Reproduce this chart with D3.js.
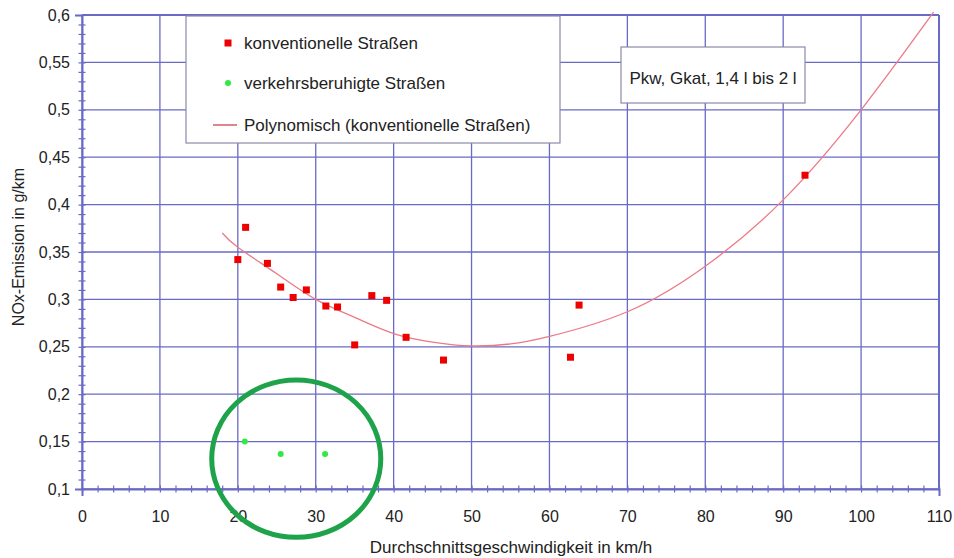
<!DOCTYPE html>
<html>
<head>
<meta charset="utf-8">
<script src="https://cdn.jsdelivr.net/npm/d3@7"></script>
<style>
  html, body { margin: 0; padding: 0; background: #ffffff; }
  svg { display: block; font-family: "Liberation Sans", Arial, sans-serif; }
</style>
</head>
<body>
<svg id="chart" width="954" height="558"></svg>
<script>
// ---- data ----
const konvX = [20.0, 21.0, 23.8, 25.5, 27.1, 28.8, 31.3, 32.8, 35.0, 37.2, 39.1, 41.6, 46.4, 62.7, 63.8, 92.8];
const konvY = [0.342, 0.376, 0.338, 0.313, 0.302, 0.310, 0.293, 0.292, 0.252, 0.304, 0.299, 0.260, 0.236, 0.239, 0.294, 0.431];
const beruhigtX = [20.9, 25.5, 31.2];
const beruhigtY = [0.150, 0.137, 0.137];
// trendline
const trendX = [18, 20, 25, 30, 35, 40, 45, 50, 55, 60, 70, 80, 90, 100, 109.3];
const trendY = [0.370, 0.355, 0.327, 0.300, 0.281, 0.264, 0.255, 0.251, 0.253, 0.261, 0.287, 0.335, 0.405, 0.500, 0.603];
const xTicks = [0, 10, 20, 30, 40, 50, 60, 70, 80, 90, 100, 110];
const yTicks = [0.1, 0.15, 0.2, 0.25, 0.3, 0.35, 0.4, 0.45, 0.5, 0.55, 0.6];
const legendLabels = ["konventionelle Straßen", "verkehrsberuhigte Straßen", "Polynomisch (konventionelle Straßen)"];
const noteText = "Pkw, Gkat, 1,4 l bis 2 l";
const xTitle = "Durchschnittsgeschwindigkeit in km/h";
const yTitle = "NOx-Emission in g/km";
// highlight ellipse (data units): centre x, centre y, radius x, radius y
const highlight = [27.5, 0.132, 10.85, 0.083];

// ---- layout ----
const W = 954, H = 558;
const m = { left: 82, right: 15, top: 15, bottom: 69 };
const svg = d3.select("#chart");
const x = d3.scaleLinear().domain([0, 110]).range([m.left, W - m.right]);
const y = d3.scaleLinear().domain([0.1, 0.6]).range([H - m.bottom, m.top]);
const gridColor = "#6a6ac6";
const de = d3.formatLocale({ decimal: ",", thousands: ".", grouping: [3], currency: ["", "€"] });
const fmt = de.format("~g");

// grid
const g = svg.append("g");
g.selectAll("line.vg").data(xTicks).join("line")
  .attr("x1", d => x(d)).attr("x2", d => x(d))
  .attr("y1", y(0.6)).attr("y2", y(0.1))
  .attr("stroke", gridColor).attr("stroke-width", 1.3);
g.selectAll("line.hg").data(yTicks).join("line")
  .attr("x1", x(0)).attr("x2", x(110))
  .attr("y1", d => y(d)).attr("y2", d => y(d))
  .attr("stroke", gridColor).attr("stroke-width", 1.3);

// axes with crossing minor ticks
const xAxis = d3.axisBottom(x).tickValues(d3.range(0, 111, 2)).tickSize(7)
  .tickFormat(d => (d % 10 === 0 ? d : ""));
const gx = svg.append("g").attr("transform", `translate(0,${y(0.1)})`).call(xAxis);
gx.select(".domain").attr("stroke", gridColor).attr("stroke-width", 2);
gx.selectAll(".tick line").attr("y1", -3.5).attr("y2", 3.5).attr("stroke", gridColor).attr("stroke-width", 1.2);
gx.selectAll(".tick text").attr("y", 22).attr("dy", "0.71em")
  .attr("font-size", 16).attr("fill", "#222").attr("font-family", "Liberation Sans, Arial, sans-serif");

const yAxis = d3.axisLeft(y).tickValues(d3.range(10, 61, 1).map(v => v / 100)).tickSize(7)
  .tickFormat(d => (Math.round(d * 100) % 5 === 0 ? fmt(d) : ""));
const gy = svg.append("g").attr("transform", `translate(${x(0)},0)`).call(yAxis);
gy.select(".domain").attr("stroke", gridColor).attr("stroke-width", 2);
gy.selectAll(".tick line").attr("x1", -3.5).attr("x2", 3.5).attr("stroke", gridColor).attr("stroke-width", 1.2);
gy.selectAll(".tick text").attr("x", -12)
  .attr("font-size", 16).attr("fill", "#222").attr("font-family", "Liberation Sans, Arial, sans-serif");

// frame top & right
svg.append("line").attr("x1", x(0)).attr("x2", x(110)).attr("y1", y(0.6)).attr("y2", y(0.6))
  .attr("stroke", gridColor).attr("stroke-width", 2);
svg.append("line").attr("x1", x(110)).attr("x2", x(110)).attr("y1", y(0.6)).attr("y2", y(0.1))
  .attr("stroke", gridColor).attr("stroke-width", 2);

// axis titles
svg.append("text").attr("x", 511).attr("y", 553)
  .attr("text-anchor", "middle").attr("font-size", 17).attr("fill", "#222").text(xTitle);
svg.append("text").attr("transform", `translate(24,247) rotate(-90)`)
  .attr("text-anchor", "middle").attr("font-size", 16).attr("fill", "#222").text(yTitle);

// trendline
const trend = trendX.map((d, i) => [d, trendY[i]]);
svg.append("path").datum(trend)
  .attr("d", d3.line().x(d => x(d[0])).y(d => y(d[1])).curve(d3.curveNatural))
  .attr("fill", "none").attr("stroke", "#ec7a86").attr("stroke-width", 1.3);

// points
const konv = konvX.map((d, i) => [d, konvY[i]]);
svg.selectAll("rect.k").data(konv).join("rect")
  .attr("x", d => x(d[0]) - 3.5).attr("y", d => y(d[1]) - 3.5)
  .attr("width", 7).attr("height", 7).attr("fill", "#ee0000");
const ber = beruhigtX.map((d, i) => [d, beruhigtY[i]]);
svg.selectAll("circle.b").data(ber).join("circle")
  .attr("cx", d => x(d[0])).attr("cy", d => y(d[1])).attr("r", 3)
  .attr("fill", "#33e844");

// legend box
const lg = svg.append("g");
lg.append("rect").attr("x", 186).attr("y", 16).attr("width", 374).attr("height", 127)
  .attr("fill", "#fff").attr("stroke", "#8a8aa8").attr("stroke-width", 1.2);
const ly = [43, 83, 125];
lg.append("rect").attr("x", 224.5).attr("y", ly[0] - 3.5).attr("width", 7).attr("height", 7).attr("fill", "#ee0000");
lg.append("circle").attr("cx", 228).attr("cy", ly[1]).attr("r", 3).attr("fill", "#33e844");
lg.append("line").attr("x1", 213).attr("x2", 237).attr("y1", ly[2]).attr("y2", ly[2])
  .attr("stroke", "#d03040").attr("stroke-width", 1.2);
lg.selectAll("text").data(legendLabels).join("text")
  .attr("x", 244).attr("y", (d, i) => ly[i]).attr("dy", "0.36em")
  .attr("font-size", 17).attr("fill", "#222").text(d => d);

// note box
svg.append("rect").attr("x", 621).attr("y", 47).attr("width", 184).attr("height", 56)
  .attr("fill", "#fff").attr("stroke", "#8a8aa8").attr("stroke-width", 1.2);
svg.append("text").attr("x", 713).attr("y", 78).attr("dy", "0.36em").attr("text-anchor", "middle")
  .attr("font-size", 17).attr("fill", "#222").text(noteText);

// highlight ellipse
svg.append("ellipse")
  .attr("cx", x(highlight[0])).attr("cy", y(highlight[1]))
  .attr("rx", x(highlight[2]) - x(0)).attr("ry", y(0.1) - y(0.1 + highlight[3]))
  .attr("fill", "none").attr("stroke", "#1fa34a").attr("stroke-width", 5);
</script>
</body>
</html>
